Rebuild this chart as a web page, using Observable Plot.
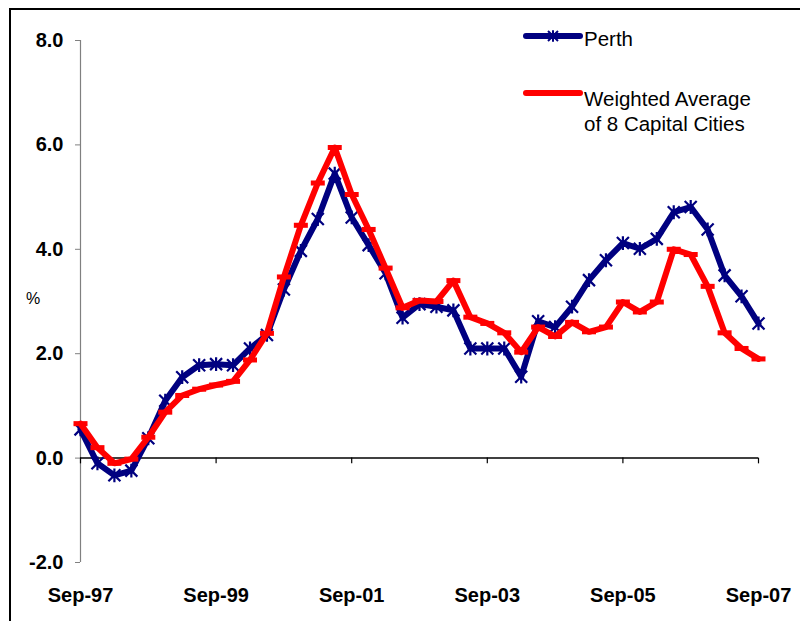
<!DOCTYPE html>
<html>
<head>
<meta charset="utf-8">
<script src="https://cdn.jsdelivr.net/npm/d3@7"></script>
<script src="https://cdn.jsdelivr.net/npm/@observablehq/plot@0.6"></script>
<style>
  html, body { margin: 0; padding: 0; background: #fff; overflow: hidden; }
  body { width: 800px; height: 621px; position: relative; font-family: "Liberation Sans", Arial, sans-serif; }
  #frame { position: absolute; left: 9px; top: 8px; width: 900px; height: 800px; border: 2px solid #000; box-sizing: border-box; }
  #chart { position: absolute; left: 0; top: 0; }
  #pct { position: absolute; left: 26px; top: 290px; font-size: 16px; color: #000; }
  #legend { position: absolute; left: 0; top: 0; width: 800px; height: 160px; }
</style>
</head>
<body>
<div id="frame"></div>
<div id="chart"></div>
<div id="pct">%</div>
<svg id="legend" width="800" height="160"></svg>
<script>
// Quarter labels, Sep-97 .. Sep-07
const quarters = [
  "Sep-97","Dec-97","Mar-98","Jun-98","Sep-98","Dec-98","Mar-99","Jun-99",
  "Sep-99","Dec-99","Mar-00","Jun-00","Sep-00","Dec-00","Mar-01","Jun-01",
  "Sep-01","Dec-01","Mar-02","Jun-02","Sep-02","Dec-02","Mar-03","Jun-03",
  "Sep-03","Dec-03","Mar-04","Jun-04","Sep-04","Dec-04","Mar-05","Jun-05",
  "Sep-05","Dec-05","Mar-06","Jun-06","Sep-06","Dec-06","Mar-07","Jun-07",
  "Sep-07"
];
const perth = [0.55, -0.1, -0.33, -0.24, 0.38, 1.1, 1.55, 1.78, 1.8, 1.78,
  2.1, 2.36, 3.23, 3.97, 4.58, 5.45, 4.61, 4.08, 3.54, 2.69,
  2.95, 2.9, 2.83, 2.1, 2.1, 2.1, 1.56, 2.62, 2.51, 2.9,
  3.41, 3.79, 4.12, 4.01, 4.2, 4.71, 4.81, 4.38, 3.5, 3.1, 2.58];
const weightedAvg = [0.66, 0.2, -0.1, -0.02, 0.4, 0.88, 1.2, 1.32, 1.4, 1.47,
  1.88, 2.39, 3.47, 4.46, 5.27, 5.95, 5.05, 4.38, 3.64, 2.88,
  3.02, 3.0, 3.4, 2.7, 2.58, 2.4, 2.03, 2.51, 2.33, 2.6,
  2.42, 2.51, 2.99, 2.8, 2.99, 4.0, 3.9, 3.29, 2.4, 2.1, 1.9];
const xTickLabels = ["Sep-97","Sep-99","Sep-01","Sep-03","Sep-05","Sep-07"];
const yTicks = [-2, 0, 2, 4, 6, 8];
const seriesNames = ["Perth", "Weighted Average", "of 8 Capital Cities"];

const NAVY = "#000080", RED = "#FF0000";
const FONT = '"Liberation Sans", Arial, sans-serif';

const xTicks = xTickLabels.map(l => quarters.indexOf(l));
const perthData = perth.map((v, i) => ({i, v}));
const avgData = weightedAvg.map((v, i) => ({i, v}));

// Excel-like star marker: X plus vertical bar
const star = {
  draw(ctx, size) {
    const r = Math.sqrt(size / Math.PI);
    ctx.moveTo(-r, -r); ctx.lineTo(r, r);
    ctx.moveTo(r, -r); ctx.lineTo(-r, r);
    ctx.moveTo(0, -r * 1.15); ctx.lineTo(0, r * 1.15);
  }
};
// Excel-like dash marker
const dash = {
  draw(ctx, size) {
    const r = Math.sqrt(size / Math.PI);
    ctx.rect(-r, -r * 0.36, 2 * r, r * 0.72);
  }
};

const chart = Plot.plot({
  width: 800,
  height: 621,
  marginTop: 40,
  marginBottom: 59,
  marginLeft: 80,
  marginRight: 42,
  style: {fontFamily: FONT, background: "transparent", color: "#000"},
  x: {type: "linear", domain: [0, quarters.length - 1]},
  y: {domain: [-2, 8]},
  marks: [
    Plot.ruleX([0], {y1: -2, y2: 8, stroke: "#808080", strokeWidth: 1.2}),
    Plot.axisY(yTicks, {tickFormat: d => d.toFixed(1), tickSize: 5, tickPadding: 12, stroke: "#808080",
      fill: "#000", fontWeight: "bold", fontSize: 20, label: null}),
    Plot.ruleY([0], {stroke: "#000", strokeWidth: 1.5}),
    Plot.ruleX(xTicks, {x: d => d, y1: 0, y2: -0.11, stroke: "#000", strokeWidth: 1.2}),
    Plot.axisX(xTicks, {tickFormat: i => quarters[i], tickSize: 0, tickPadding: 25,
      fill: "#000", fontWeight: "bold", fontSize: 20, label: null}),
    Plot.line(perthData, {x: "i", y: "v", stroke: NAVY, strokeWidth: 6, strokeLinejoin: "round", strokeLinecap: "round"}),
    Plot.dot(perthData, {x: "i", y: "v", symbol: star, r: 6, stroke: NAVY, strokeWidth: 2.2, fill: "none"}),
    Plot.line(avgData, {x: "i", y: "v", stroke: RED, strokeWidth: 6, strokeLinejoin: "round", strokeLinecap: "round"}),
    Plot.dot(avgData, {x: "i", y: "v", symbol: dash, r: 7, fill: RED, stroke: "none"})
  ]
});
document.getElementById("chart").appendChild(chart);

// Legend
const lg = d3.select("#legend");
lg.append("line").attr("x1", 526).attr("x2", 580).attr("y1", 36).attr("y2", 36)
  .attr("stroke", NAVY).attr("stroke-width", 6).attr("stroke-linecap", "round");
const s = 5;
lg.append("path").attr("d", `M${553 - s},${36 - s}L${553 + s},${36 + s}M${553 + s},${36 - s}L${553 - s},${36 + s}M553,${36 - s * 1.15}L553,${36 + s * 1.15}`)
  .attr("stroke", NAVY).attr("stroke-width", 2).attr("fill", "none");
lg.append("text").attr("x", 584).attr("y", 46).text(seriesNames[0])
  .attr("font-size", 20.5).attr("font-family", FONT);
lg.append("line").attr("x1", 526).attr("x2", 580).attr("y1", 93).attr("y2", 93)
  .attr("stroke", RED).attr("stroke-width", 6).attr("stroke-linecap", "round");
lg.append("text").attr("x", 584).attr("y", 106).text(seriesNames[1])
  .attr("font-size", 20.5).attr("font-family", FONT);
lg.append("text").attr("x", 584).attr("y", 131).text(seriesNames[2])
  .attr("font-size", 20.5).attr("font-family", FONT);
</script>
</body>
</html>
